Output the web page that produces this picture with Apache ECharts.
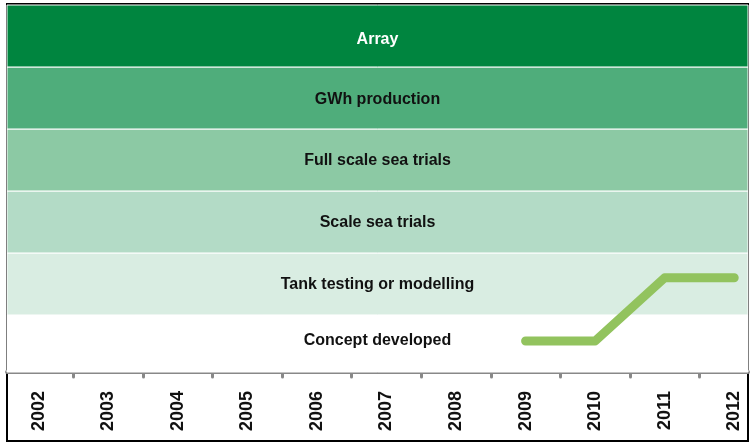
<!DOCTYPE html>
<html>
<head>
<meta charset="utf-8">
<script src="https://cdn.jsdelivr.net/npm/echarts@6/dist/echarts.min.js"></script>
<style>
  html, body { margin: 0; padding: 0; background: #fff; }
  #chart { width: 755px; height: 443px; }
</style>
</head>
<body>
<div id="chart"></div>
<script>
// 阶段（从下到上）与年份
const stages = ['Concept developed', 'Tank testing or modelling', 'Scale sea trials', 'Full scale sea trials', 'GWh production', 'Array']
const stageColors = ['#ffffff', '#d9ede2', '#b3dbc6', '#8cc9a4', '#4fad7b', '#00853f']
const years = ['2002', '2003', '2004', '2005', '2006', '2007', '2008', '2009', '2010', '2011', '2012']
// 技术进度（以阶段带为单位）
const progress = [null, null, null, null, null, null, null, 0.58, 0.58, 1.6, 1.6]

const FONT = '"Liberation Sans", Arial, sans-serif'
const yRange = { min: 0.08, max: 6 }
// 标签微调：上面几条带的文字略偏下
const labelShift = [-3, 1, 1, 1, 2, 4]

const chart = echarts.init(document.getElementById('chart'))

chart.setOption({
  animation: false,
  grid: [
    // 0: 年份轴 + 进度线（略宽于外框，右侧超出画布）
    { left: 4, width: 765, top: 5, bottom: 71, outerBoundsMode: 'none', containLabel: false },
    // 1: 外框
    { left: 7, right: 7, top: 4, bottom: 2, show: true, borderColor: '#000', borderWidth: 2, backgroundColor: 'transparent', outerBoundsMode: 'none' },
    // 2: 阶段色带 + 灰色轴线
    { left: 7, right: 7, top: 5, bottom: 71, outerBoundsMode: 'none' },
  ],
  xAxis: [
    {
      gridIndex: 0, type: 'category', data: years, boundaryGap: true,
      axisLine: { show: false },
      axisTick: { show: true, length: 5, interval: (i) => i > 0, lineStyle: { color: '#888', width: 3, cap: 'round' } },
      axisLabel: { rotate: 90, margin: 19, fontSize: 18, fontWeight: 'bold', color: '#111', fontFamily: FONT },
      splitLine: { show: false },
    },
    { gridIndex: 1, type: 'value', show: false },
    {
      gridIndex: 2, type: 'value', min: 0, max: 1,
      axisLine: { show: true, lineStyle: { color: '#888', width: 4 } },
      axisTick: { show: false }, axisLabel: { show: false }, splitLine: { show: false },
    },
  ],
  yAxis: [
    { gridIndex: 0, type: 'value', ...yRange, show: false },
    { gridIndex: 1, type: 'value', show: false },
    { gridIndex: 2, type: 'value', ...yRange, show: false },
  ],
  series: [
    {
      type: 'line', xAxisIndex: 2, yAxisIndex: 2, data: [], z: 1, silent: true,
      markArea: {
        silent: true,
        data: stages.map((s, i) => [
          {
            yAxis: i, name: s,
            itemStyle: { color: stageColors[i], borderColor: '#fff', borderWidth: 1 },
            label: { color: i === stages.length - 1 ? '#fff' : '#111', offset: [0, labelShift[i]] },
          },
          { yAxis: i + 1 },
        ]),
        label: { show: true, position: 'inside', fontSize: 16, fontWeight: 'bold', fontFamily: FONT },
      },
    },
    {
      name: 'progress', type: 'line', xAxisIndex: 0, yAxisIndex: 0, z: 10,
      data: progress, showSymbol: false, symbol: 'none', connectNulls: false,
      lineStyle: { color: '#92c35e', width: 9, cap: 'round', join: 'round' },
    },
  ],
})
</script>
</body>
</html>
